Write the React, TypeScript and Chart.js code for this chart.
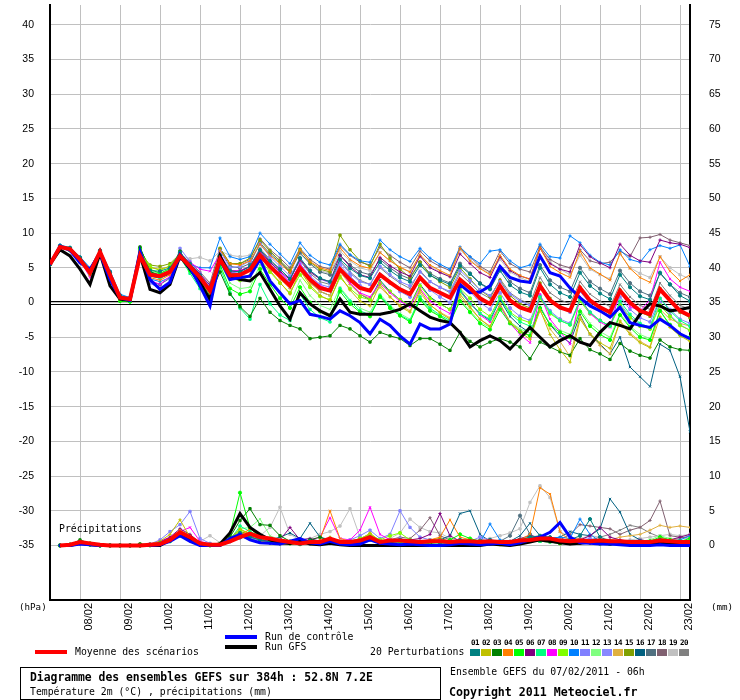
import React, { useEffect, useRef } from "react";
import { Chart, registerables } from "chart.js";

Chart.register(...registerables);

// ---------- axis / category data ----------
const STEP_H = 6; // hours between model outputs
const dayLabels = ["08/02", "09/02", "10/02", "11/02", "12/02", "13/02", "14/02", "15/02", "16/02", "17/02", "18/02", "19/02", "20/02", "21/02", "22/02", "23/02"];
const dayTickHours = [18, 42, 66, 90, 114, 138, 162, 186, 210, 234, 258, 282, 306, 330, 354, 378];
const tempTicks = [-35, -30, -25, -20, -15, -10, -5, 0, 5, 10, 15, 20, 25, 30, 35, 40];
const precipTicks = [0, 5, 10, 15, 20, 25, 30, 35, 40, 45, 50, 55, 60, 65, 70, 75];

// ---------- temperature 2m (°C), every 6h from 07/02 06h ----------
const tMean = [5.5, 8.0, 7.7, 6.2, 4.3, 7.3, 4.0, 0.7, 0.5, 6.7, 4.0, 3.8, 4.4, 6.7, 5.2, 3.6, 1.7,
  6.2, 3.9, 4.0, 4.7, 6.8, 5.2, 3.8, 2.4, 5.0, 3.3, 2.1, 1.7, 4.8, 3.3, 2.1, 1.7, 4.0, 2.9, 1.9, 1.2,
  3.6, 2.1, 1.4, 0.7, 3.3, 2.1, 0.6, -0.2, 2.4, 0.3, -0.7, -1.2, 2.4, 0.3, -0.7, -1.2, 2.1, 0.3, -0.7, -1.4,
  1.7, 0.0, -1.2, -1.7, 1.9, 0.3, -1.2, -1.9];
const tControl = [5.5, 8.1, 7.5, 5.7, 4.8, 7.1, 3.3, 0.7, 0.3, 7.4, 3.3, 1.9, 2.9, 6.9, 5.0, 2.4, -0.5,
  6.2, 3.3, 3.6, 3.8, 6.2, 3.1, 1.4, -0.2, 0.3, -1.7, -2.0, -2.4, -1.2, -1.9, -2.9, -4.5, -2.4, -3.3, -4.8, -6.0,
  -3.1, -3.8, -3.8, -3.1, 2.6, 1.4, 1.5, 2.4, 5.2, 3.6, 3.1, 2.9, 6.7, 4.3, 3.8, 2.1, 0.7, -0.5, -1.2, -2.1,
  -0.7, -2.9, -3.3, -3.6, -2.4, -3.3, -4.5, -5.2];
const tGfs = [5.5, 7.6, 6.7, 4.8, 2.6, 7.1, 2.4, 0.5, 0.3, 6.9, 1.9, 1.4, 2.6, 6.7, 4.8, 2.9, 0.4,
  6.7, 3.8, 3.3, 3.1, 4.3, 1.9, -0.5, -2.4, 1.4, -0.2, -1.2, -1.9, 0.5, -1.4, -1.7, -1.7, -1.7, -1.4, -1.0, -0.2,
  -1.2, -2.1, -2.6, -2.9, -4.3, -6.4, -5.5, -4.8, -5.5, -6.7, -5.2, -3.6, -5.0, -6.4, -5.5, -4.8, -5.7, -6.2, -4.3, -2.9,
  -3.3, -3.8, -1.7, -0.2, -0.5, -1.2, -1.0, -0.7];

const t01 = [5.5, 8.2, 7.9, 6.5, 4.8, 7.5, 4.4, 1.0, 0.6, 7.0, 4.6, 4.5, 5.0, 7.2, 5.6, 3.9, 2.0,
  6.8, 4.6, 4.4, 5.2, 7.6, 6.0, 4.8, 3.4, 6.4, 4.6, 3.5, 3.0, 6.2, 4.9, 3.9, 3.5, 5.8, 4.6, 3.6, 3.0, 5.4, 3.9, 3.2, 2.6,
  5.3, 4.1, 2.7, 1.9, 4.6, 2.5, 1.5, 1.0, 5.0, 2.6, 1.4, 0.8, 4.3, 2.4, 1.3, 0.5, 4.0, 2.2, 0.9, 0.4, 4.3, 2.6, 1.0, 0.2];
const t02 = [5.5, 7.9, 7.6, 6.0, 4.0, 7.0, 3.6, 0.4, 0.3, 7.4, 5.0, 4.8, 5.2, 7.0, 4.8, 3.0, 1.2,
  6.0, 3.5, 3.4, 4.0, 6.9, 4.6, 2.9, 1.2, 4.6, 2.5, 1.0, 0.3, 3.9, 1.8, 0.2, -0.5, 2.6, 0.8, -0.6, -1.4, 1.8, -0.3, -1.5, -2.4,
  1.2, -0.6, -2.4, -3.5, -0.2, -2.8, -4.2, -5.3, -1.0, -4.6, -6.8, -8.6, -2.4, -4.5, -5.8, -6.6, -2.8, -4.6, -5.8, -6.5, -2.0, -3.6, -4.8, -5.6];
const t03 = [5.5, 8.1, 7.8, 6.3, 4.5, 7.4, 4.2, 0.9, 0.6, 8.0, 4.5, 3.8, 4.6, 7.4, 5.0, 3.2, 1.0,
  4.4, 1.2, -0.6, -2.0, 0.6, -1.4, -2.6, -3.3, -3.8, -5.2, -5.0, -4.8, -3.3, -3.8, -4.8, -5.7, -4.3, -4.8, -5.2, -6.2, -5.2, -5.2, -6.0, -6.9,
  -4.3, -5.6, -6.4, -5.7, -5.2, -5.7, -6.4, -8.1, -5.7, -6.4, -7.1, -7.6, -5.2, -6.8, -7.4, -8.2, -5.9, -7.0, -7.6, -8.0, -5.4, -6.4, -6.8, -6.9];
const t04 = [5.5, 8.0, 7.8, 6.0, 3.9, 7.2, 3.8, 0.5, 0.4, 6.5, 3.6, 3.2, 4.0, 6.6, 5.4, 3.8, 1.4,
  7.5, 5.6, 5.4, 6.0, 8.4, 6.8, 5.6, 4.3, 7.6, 5.9, 5.0, 4.6, 7.9, 6.2, 5.3, 4.9, 7.2, 6.0, 5.1, 4.4, 6.9, 5.4, 4.6, 3.9,
  7.9, 6.0, 4.9, 4.0, 6.8, 4.8, 3.9, 3.3, 7.9, 5.2, 4.3, 3.6, 7.4, 5.0, 4.1, 3.2, 7.1, 4.9, 3.6, 2.9, 6.6, 4.5, 3.1, 4.0];
const t05 = [5.5, 8.0, 7.5, 6.1, 4.2, 7.3, 3.6, 0.2, 0.1, 7.8, 4.8, 4.2, 4.9, 6.8, 4.6, 2.4, 0.6,
  5.4, 2.0, 1.2, 1.6, 4.8, 2.6, 0.6, -0.8, 2.2, 0.0, -1.3, -1.9, 1.6, -0.2, -1.4, -2.0, 0.8, -0.8, -1.9, -2.8, 0.4, -1.2, -2.0, -2.9,
  0.2, -1.4, -3.0, -3.9, -1.0, -3.0, -4.2, -4.8, -0.8, -3.2, -4.3, -5.0, -1.3, -3.4, -4.6, -5.4, -1.8, -3.6, -5.0, -5.4, -1.2, -3.2, -4.6, -5.0];
const t06 = [5.5, 8.1, 7.7, 6.4, 4.6, 7.5, 4.1, 0.8, 0.6, 6.9, 4.2, 4.0, 4.5, 6.2, 5.6, 4.1, 2.5,
  6.6, 4.4, 4.5, 5.2, 7.4, 5.8, 4.5, 3.3, 6.2, 4.4, 3.4, 3.0, 6.8, 5.2, 4.0, 3.6, 6.5, 5.3, 4.4, 3.8, 6.7, 5.0, 4.3, 3.7,
  7.0, 5.6, 4.3, 3.6, 6.6, 4.6, 3.8, 3.4, 7.8, 5.6, 4.8, 4.4, 8.3, 6.6, 5.7, 5.0, 8.4, 6.8, 6.0, 5.8, 9.0, 8.6, 8.4, 7.9];
const t07 = [5.5, 7.9, 7.6, 6.2, 4.4, 7.1, 3.9, 0.6, 0.2, 7.1, 4.4, 3.5, 4.4, 6.5, 4.2, 2.0, 0.3,
  5.0, 1.4, -0.8, -2.4, 2.6, -0.2, -1.8, -2.6, 1.2, -1.0, -2.2, -2.8, 2.0, 0.2, -1.2, -1.8, 1.0, -0.6, -1.8, -2.6, 0.8, -0.8, -1.8, -2.6,
  1.6, -0.2, -1.6, -2.4, 0.6, -1.6, -2.8, -3.4, 0.8, -1.4, -2.6, -3.2, 0.5, -1.4, -2.6, -3.4, 0.2, -1.7, -3.0, -3.6, 0.6, -1.2, -2.6, -3.4];
const t08 = [5.5, 8.0, 7.8, 6.1, 3.6, 7.2, 4.0, 0.7, 0.5, 6.4, 3.2, 2.6, 3.8, 6.9, 5.8, 4.8, 4.5,
  7.0, 4.6, 4.6, 5.2, 7.6, 5.9, 4.4, 3.0, 5.5, 3.6, 2.4, 1.9, 4.6, 2.8, 1.4, 0.8, 2.8, 1.4, 0.2, -0.6, 2.0, 0.2, -0.8, -1.6,
  1.6, 0.0, -1.8, -2.8, -0.4, -3.0, -4.6, -5.8, 1.2, -2.4, -4.2, -6.0, 0.8, -1.6, -2.8, -3.6, 1.6, -0.6, -1.2, 0.4, 5.8, 3.4, 2.2, 1.6];
const t09 = [5.5, 8.0, 7.7, 6.3, 4.4, 7.3, 3.9, 0.6, 0.4, 7.6, 5.2, 4.6, 5.3, 7.1, 5.0, 3.4, 1.5,
  6.0, 3.4, 3.2, 3.8, 6.2, 4.4, 2.8, 1.4, 4.0, 2.2, 0.9, 0.4, 3.6, 2.0, 0.8, 0.4, 2.8, 1.6, 0.4, -0.4, 2.4, 0.6, -0.2, -1.0,
  2.0, 0.6, -1.0, -2.0, 0.8, -1.4, -2.4, -2.9, 0.6, -1.6, -2.6, -3.2, 0.2, -1.6, -2.6, -3.4, -0.4, -2.2, -3.4, -3.8, -0.4, -2.0, -3.3, -4.0];
const t10 = [5.5, 8.3, 7.9, 6.6, 5.0, 7.6, 4.6, 1.2, 0.7, 6.6, 3.4, 3.0, 3.6, 6.4, 5.5, 5.0, 5.0,
  9.3, 6.6, 6.2, 6.6, 10.0, 8.4, 7.0, 5.6, 8.6, 6.8, 5.8, 5.4, 8.4, 6.9, 6.0, 5.8, 9.0, 7.6, 6.6, 5.9, 7.8, 6.4, 5.5, 4.8,
  8.0, 6.6, 5.6, 7.4, 7.6, 6.0, 5.0, 5.4, 8.4, 6.6, 6.4, 9.6, 8.6, 6.8, 5.8, 5.4, 7.6, 6.2, 5.8, 7.6, 8.2, 7.8, 8.3, 5.2];
const t11 = [5.5, 8.0, 7.6, 6.0, 4.0, 7.2, 3.8, 0.6, 0.5, 6.2, 2.8, 2.0, 3.2, 7.8, 5.9, 4.2, 2.2,
  7.0, 4.4, 4.2, 4.8, 7.4, 5.6, 4.2, 2.8, 5.6, 3.8, 2.6, 2.2, 5.8, 4.2, 3.0, 2.6, 5.2, 4.0, 3.0, 2.4, 4.4, 3.0, 2.2, 1.6,
  4.6, 3.2, 1.8, 1.0, 3.0, 1.2, 0.2, -0.4, 2.4, 0.2, -0.8, -1.4, 1.6, -0.2, -1.2, -2.0, 0.8, -1.0, -2.2, -2.8, 0.6, -1.0, -2.4, -3.0];
const t12 = [5.5, 7.9, 7.6, 6.2, 4.3, 7.1, 3.7, 0.4, 0.2, 7.3, 4.6, 4.1, 4.7, 6.6, 4.5, 2.6, 0.8,
  5.8, 2.8, 2.0, 2.2, 5.4, 3.2, 1.4, -0.2, 3.2, 1.0, -0.4, -1.0, 2.2, 0.4, -0.8, -1.4, 1.2, -0.4, -1.6, -2.4, 0.6, -1.0, -2.0, -2.8,
  0.4, -1.2, -2.8, -3.6, -0.6, -2.8, -3.8, -4.4, -0.8, -3.0, -4.0, -4.6, -1.0, -3.0, -4.2, -5.0, -1.6, -3.4, -4.6, -5.2, -1.2, -3.4, -4.8, -5.4];
const t13 = [5.5, 8.1, 7.8, 6.4, 4.5, 7.4, 4.3, 0.9, 0.7, 6.8, 4.0, 3.9, 4.5, 6.9, 5.3, 3.7, 1.8,
  7.4, 5.0, 5.2, 6.0, 8.4, 6.6, 5.2, 3.8, 6.4, 4.6, 3.4, 2.8, 5.4, 3.8, 2.4, 1.8, 4.0, 2.8, 1.6, 0.8, 3.4, 1.8, 0.8, 0.0,
  3.0, 1.6, 0.0, -1.0, 1.4, -0.8, -2.0, -2.6, 1.0, -1.2, -2.4, -3.0, 0.4, -1.4, -2.6, -3.4, -0.2, -2.0, -3.2, -3.8, 0.0, -1.8, -3.2, -4.0];
const t14 = [5.5, 8.0, 7.7, 6.1, 4.1, 7.3, 4.1, 0.7, 0.4, 6.7, 4.1, 3.7, 4.2, 6.4, 5.1, 3.5, 1.9,
  6.4, 4.0, 4.0, 4.6, 7.0, 5.0, 3.4, 2.0, 4.8, 2.8, 1.6, 1.0, 4.4, 2.6, 1.2, 0.6, 2.2, 0.8, -0.4, -1.2, 1.4, -0.4, -1.4, -2.2,
  0.8, -0.8, -2.4, -3.4, -0.6, -2.8, -4.0, -4.8, -1.2, -3.8, -5.6, -7.8, -2.0, -4.6, -6.2, -7.4, -2.6, -4.4, -5.6, -6.4, -1.0, -2.4, -3.0, -3.4];
const t15 = [5.5, 8.1, 7.8, 6.3, 4.4, 7.4, 4.0, 0.6, 0.5, 7.2, 5.4, 5.2, 5.6, 7.0, 5.3, 3.3, 1.6,
  7.8, 5.6, 5.6, 6.4, 9.0, 7.4, 6.0, 4.6, 7.6, 5.8, 4.8, 4.4, 9.7, 7.6, 6.0, 5.2, 8.4, 6.4, 4.8, 3.6, 5.8, 4.0, 3.0, 2.2,
  5.0, 3.4, 1.8, 0.8, 3.2, 1.0, -0.2, -0.8, 2.8, 0.6, -0.6, -1.2, 2.2, 0.2, -0.8, -1.6, 1.8, -0.2, -1.4, -2.0, 2.0, 0.2, -1.4, -2.2];
const t16 = [5.5, 8.0, 7.7, 6.2, 4.2, 7.2, 3.9, 0.6, 0.4, 6.6, 3.8, 3.5, 4.1, 6.5, 5.0, 3.6, 1.7,
  6.6, 4.2, 4.2, 5.0, 7.2, 5.4, 3.8, 2.2, 5.0, 3.0, 1.6, 1.0, 4.6, 2.8, 1.2, 0.4, 3.2, 1.6, 0.4, -0.4, 2.6, 0.8, -0.2, -1.0,
  1.8, 0.0, -1.6, -2.6, 0.4, -2.0, -3.4, -4.4, -0.6, -3.2, -4.8, -5.8, -1.8, -4.6, -6.0, -7.4, -5.0, -9.3, -10.7, -12.1, -6.0, -6.9, -10.7, -18.6];
const t17 = [5.5, 8.1, 7.8, 6.3, 4.6, 7.4, 4.3, 0.9, 0.6, 6.3, 3.0, 2.6, 3.5, 6.7, 5.5, 4.0, 2.0,
  7.6, 5.2, 5.0, 5.6, 8.6, 7.0, 5.8, 4.4, 7.2, 5.6, 4.4, 4.0, 6.8, 5.4, 4.4, 4.0, 6.2, 5.0, 4.0, 3.4, 5.8, 4.2, 3.4, 2.8,
  5.6, 4.2, 2.8, 2.0, 5.0, 3.0, 2.0, 1.4, 5.4, 3.2, 2.2, 1.6, 5.0, 3.0, 2.0, 1.2, 4.6, 2.8, 1.6, 1.0, 4.2, 2.6, 1.4, 0.8];
const t18 = [5.5, 8.0, 7.7, 6.2, 4.5, 7.3, 4.2, 0.8, 0.5, 6.6, 4.3, 4.1, 4.8, 7.0, 5.8, 4.4, 2.8,
  7.8, 5.6, 5.6, 6.2, 9.2, 7.6, 6.4, 5.0, 7.8, 6.2, 5.2, 4.8, 8.2, 6.8, 5.8, 5.4, 8.0, 6.8, 5.8, 5.0, 7.4, 6.0, 5.2, 4.6,
  7.8, 6.6, 5.2, 4.4, 7.4, 5.6, 4.8, 4.4, 8.0, 6.2, 5.4, 5.0, 7.6, 6.0, 5.6, 5.8, 7.4, 6.6, 9.3, 9.4, 9.8, 9.0, 8.6, 8.2];
const t19 = [5.5, 8.0, 7.8, 6.5, 4.9, 7.5, 4.5, 1.0, 0.7, 6.8, 4.4, 4.2, 4.5, 6.8, 6.3, 6.5, 6.0,
  7.4, 6.8, 6.6, 6.8, 8.6, 7.2, 6.0, 4.8, 7.0, 5.6, 4.6, 4.2, 7.4, 6.0, 5.0, 4.6, 7.2, 6.0, 5.0, 4.4, 6.6, 5.2, 4.4, 3.8,
  7.6, 6.2, 5.0, 4.2, 6.2, 4.4, 3.6, 3.0, 8.2, 5.8, 4.8, 4.0, 6.8, 4.8, 4.0, 3.4, 7.0, 5.0, 4.2, 3.6, 6.6, 5.0, 4.0, 3.4];
const t20 = [5.5, 8.0, 7.6, 6.1, 4.0, 7.2, 3.8, 0.5, 0.3, 6.9, 4.2, 3.9, 4.4, 6.6, 5.2, 3.6, 1.6,
  6.8, 4.6, 4.6, 5.2, 7.8, 6.2, 4.8, 3.4, 6.0, 4.2, 3.0, 2.6, 6.0, 4.4, 3.2, 2.6, 5.0, 3.8, 2.8, 2.0, 4.6, 3.0, 2.2, 1.4,
  4.2, 2.8, 1.4, 0.6, 3.4, 1.4, 0.4, -0.2, 3.6, 1.4, 0.4, -0.2, 3.0, 1.2, 0.2, -0.6, 2.6, 0.8, -0.4, -1.0, 2.8, 1.0, -0.4, -1.0];

// ---------- precipitation (mm / 6h), from 07/02 12h ----------
const pMean = [0, 0.1, 0.5, 0.3, 0.1, 0, 0, 0, 0, 0.1, 0.2, 0.8, 1.9, 1.2, 0.3, 0.1,
  0.1, 0.6, 1.2, 1.7, 1.2, 1.0, 0.7, 0.5, 0.3, 0.5, 0.5, 1.0, 0.5, 0.5, 0.7, 1.2,
  0.5, 0.7, 0.7, 0.6, 0.5, 0.6, 0.6, 0.5, 0.6, 0.6, 0.5, 0.6, 0.5, 0.5, 0.7, 0.8,
  1.0, 1.0, 0.7, 0.6, 0.7, 0.6, 0.7, 0.6, 0.6, 0.5, 0.5, 0.5, 0.7, 0.6, 0.5, 0.5];
const pControl = [0, 0, 0.2, 0.1, 0, 0, 0, 0, 0, 0, 0.1, 0.6, 1.4, 0.6, 0, 0,
  0, 1.0, 1.6, 0.8, 0.4, 0.3, 0.2, 0.6, 1.0, 0.4, 0.2, 0.6, 0.2, 0.1, 0.2, 0.8,
  0.3, 0.2, 0.1, 0.2, 0.1, 0, 0, 0.1, 0.3, 0.2, 0.1, 0.2, 0.3, 0.1, 0.4, 0.8,
  1.2, 1.9, 3.3, 1.2, 0.4, 0.3, 0.2, 0.2, 0.1, 0, 0, 0, 0.1, 0, 0, 0];
const pGfs = [0, 0, 0.3, 0.1, 0, 0, 0, 0, 0, 0, 0, 0.8, 1.6, 0.8, 0.1, 0,
  0.2, 1.8, 4.6, 2.6, 1.6, 0.8, 0.4, 0.3, 0.6, 0.2, 0.1, 0.3, 0.1, 0, 0, 0,
  0, 0, 0, 0, 0, 0, 0, 0, 0, 0, 0, 0.2, 0.1, 0, 0.2, 0.5,
  0.8, 0.6, 0.4, 0.2, 0.3, 0.5, 0.3, 0.2, 0.4, 0.3, 0.2, 0.3, 0.4, 0.2, 0.1, 0];

const p01 = [0, 0.1, 0.5, 0.2, 0, 0, 0, 0, 0, 0.1, 0.3, 0.9, 1.8, 1.0, 0.3, 0.1, 0.1, 0.8, 1.8, 1.2, 0.8, 0.5, 0.3, 0.4, 0.2, 0.6, 0.4, 0.8, 0.3, 0.5, 0.6, 1.2, 0.4, 0.6, 0.8, 0.4, 0.3, 0.6, 0.4, 0.5, 0.8, 0.6, 0.4, 0.8, 0.5, 0.3, 0.8, 1.2, 1.4, 1.2, 0.6, 0.8, 1.4, 3.8, 1.2, 0.6, 0.5, 0.4, 0.6, 0.4, 0.8, 0.6, 0.4, 0.5];
const p02 = [0, 0.2, 0.6, 0.3, 0, 0, 0, 0, 0, 0.2, 0.6, 1.6, 3.7, 1.2, 0.4, 0.1, 0.2, 1.0, 2.4, 1.6, 0.6, 0.4, 0.2, 0.2, 0.1, 0.3, 0.5, 1.2, 0.4, 0.3, 0.8, 1.8, 0.6, 0.8, 0.6, 0.4, 0.2, 0.4, 0.6, 0.3, 0.2, 0.4, 0.3, 0.2, 0.1, 0.2, 0.6, 0.9, 1.2, 1.0, 0.4, 0.3, 0.5, 0.4, 0.3, 0.2, 0.3, 0.2, 0.4, 0.3, 0.6, 0.4, 0.2, 0.2];
const p03 = [0, 0.1, 0.8, 0.3, 0, 0, 0, 0, 0.2, 0.1, 0.4, 0.8, 1.6, 0.8, 0.2, 0, 0.2, 1.2, 3.6, 5.3, 3.0, 2.9, 1.4, 0.6, 0.4, 0.8, 1.2, 0.6, 0.3, 0.4, 0.5, 0.8, 0.3, 0.4, 0.8, 0.6, 0.2, 0.3, 0.5, 0.4, 0.6, 0.4, 0.3, 0.5, 0.4, 0.2, 0.4, 0.6, 0.8, 0.6, 0.3, 0.4, 0.5, 0.6, 0.4, 0.3, 0.2, 0.3, 0.4, 0.2, 0.3, 0.4, 0.2, 0.1];
const p04 = [0, 0.1, 0.4, 0.2, 0, 0, 0, 0, 0, 0.1, 0.3, 1.0, 2.2, 1.4, 0.4, 0.2, 0.1, 0.6, 1.4, 2.4, 1.6, 1.0, 0.6, 0.4, 0.3, 0.4, 0.8, 5.0, 1.0, 0.6, 0.8, 1.4, 0.6, 0.8, 0.9, 0.6, 0.4, 0.8, 1.2, 3.7, 1.2, 0.8, 0.4, 0.6, 0.4, 0.3, 0.8, 1.6, 8.3, 7.4, 2.0, 0.6, 0.8, 0.5, 0.4, 0.3, 0.4, 0.5, 0.6, 0.4, 1.0, 0.8, 0.6, 0.6];
const p05 = [0, 0.1, 0.3, 0.1, 0, 0, 0, 0, 0, 0, 0.2, 0.6, 1.4, 0.8, 0.2, 0, 0.2, 1.6, 7.6, 2.5, 1.2, 0.8, 0.4, 0.3, 0.2, 0.5, 0.4, 0.9, 0.4, 0.3, 0.6, 1.0, 0.4, 0.5, 0.6, 0.4, 0.2, 0.4, 0.5, 0.8, 1.6, 1.0, 0.6, 0.4, 0.2, 0.4, 0.8, 1.2, 1.0, 0.8, 0.6, 0.4, 0.6, 0.5, 0.3, 0.2, 0.4, 0.3, 0.5, 0.6, 1.2, 0.8, 0.6, 1.0];
const p06 = [0, 0.1, 0.5, 0.2, 0, 0, 0, 0, 0, 0.2, 0.5, 1.2, 2.4, 1.6, 0.4, 0.1, 0.1, 0.8, 1.6, 1.4, 0.8, 0.6, 0.8, 2.6, 0.8, 1.0, 0.6, 0.8, 0.4, 0.6, 0.8, 1.2, 0.6, 0.4, 0.6, 0.8, 1.0, 1.6, 4.6, 1.4, 0.6, 0.4, 0.8, 0.6, 0.4, 0.6, 1.0, 1.4, 1.2, 0.8, 0.4, 0.6, 0.8, 1.4, 2.6, 1.2, 0.8, 0.6, 0.8, 0.6, 1.0, 0.8, 1.2, 1.6];
const p07 = [0, 0.1, 0.4, 0.2, 0, 0, 0, 0, 0, 0.1, 0.3, 0.8, 1.6, 1.0, 0.3, 0.1, 0.1, 0.8, 2.8, 2.0, 1.4, 1.0, 0.6, 0.4, 0.3, 0.6, 0.4, 0.6, 0.3, 0.4, 0.8, 1.2, 0.4, 0.6, 0.4, 0.3, 0.2, 0.4, 0.3, 0.4, 0.6, 0.4, 0.3, 0.4, 0.3, 0.2, 0.5, 0.8, 0.6, 0.5, 0.3, 0.4, 0.5, 0.4, 0.3, 0.2, 0.2, 0.3, 0.4, 0.3, 0.5, 0.4, 0.2, 0.3];
const p08 = [0, 0.1, 0.4, 0.2, 0, 0, 0, 0, 0, 0.2, 0.6, 1.2, 2.0, 2.6, 0.6, 0.2, 0.1, 0.8, 1.6, 1.4, 0.8, 0.5, 0.4, 0.6, 0.4, 0.8, 1.2, 4.0, 1.0, 0.8, 2.2, 5.5, 1.6, 0.8, 0.6, 0.4, 0.3, 0.6, 0.8, 0.5, 0.4, 0.3, 0.4, 0.3, 0.2, 0.4, 0.6, 0.8, 0.8, 0.6, 0.4, 0.5, 0.6, 0.8, 0.4, 0.3, 0.4, 0.3, 0.5, 0.4, 0.6, 0.5, 0.3, 0.4];
const p09 = [0, 0.1, 0.5, 0.3, 0, 0, 0, 0, 0, 0.1, 0.4, 0.9, 2.0, 1.2, 0.4, 0.1, 0.2, 1.0, 2.2, 1.8, 1.2, 0.8, 0.5, 0.4, 0.3, 0.5, 0.6, 1.0, 0.4, 0.6, 1.0, 1.6, 0.8, 1.4, 1.8, 0.8, 0.4, 0.6, 0.5, 0.4, 0.3, 0.4, 0.6, 0.4, 0.3, 0.3, 0.6, 1.0, 0.8, 0.6, 0.3, 0.4, 0.5, 0.4, 0.3, 0.3, 0.4, 0.3, 0.5, 0.4, 0.6, 0.5, 0.4, 0.3];
const p10 = [0, 0.1, 0.3, 0.2, 0, 0, 0, 0, 0, 0.1, 0.3, 1.0, 1.6, 0.8, 0.2, 0.1, 0.2, 0.6, 1.0, 1.6, 1.2, 0.8, 0.6, 0.4, 0.2, 0.4, 0.6, 0.8, 0.4, 0.6, 0.8, 1.4, 0.6, 0.4, 0.6, 0.4, 0.3, 0.5, 0.6, 0.4, 0.8, 0.6, 0.4, 3.1, 0.8, 0.4, 0.6, 1.0, 1.2, 1.0, 1.2, 1.0, 3.8, 1.6, 0.6, 0.4, 0.5, 0.4, 0.6, 0.5, 0.8, 0.6, 0.8, 1.4];
const p11 = [0, 0.1, 0.4, 0.2, 0, 0, 0, 0, 0, 0.2, 0.8, 2.0, 3.0, 4.9, 1.0, 0.3, 0.1, 0.6, 1.2, 1.0, 0.6, 0.4, 0.3, 0.5, 0.4, 0.6, 0.5, 0.8, 0.6, 0.8, 1.4, 2.2, 1.0, 1.6, 5.0, 2.6, 1.2, 0.8, 0.6, 0.4, 0.5, 0.4, 0.3, 0.5, 0.4, 0.3, 0.6, 0.8, 1.0, 0.8, 0.5, 0.6, 0.4, 0.5, 0.3, 0.2, 0.3, 0.4, 0.5, 0.4, 0.6, 0.4, 0.3, 0.4];
const p12 = [0, 0.1, 0.6, 0.3, 0, 0, 0, 0, 0, 0.1, 0.3, 0.8, 1.6, 0.9, 0.2, 0.1, 0.2, 1.0, 2.4, 2.6, 3.8, 1.4, 0.8, 0.5, 0.3, 0.4, 0.6, 0.8, 0.4, 0.3, 0.6, 1.0, 0.5, 0.6, 0.4, 0.3, 0.2, 0.4, 0.6, 0.5, 0.8, 1.0, 0.6, 0.4, 0.3, 0.4, 0.6, 0.8, 0.6, 0.5, 0.4, 0.3, 0.4, 0.5, 0.3, 0.2, 0.3, 0.4, 0.6, 0.8, 1.4, 1.0, 0.6, 0.5];
const p13 = [0, 0.1, 0.3, 0.2, 0, 0, 0, 0, 0, 0.1, 0.3, 0.8, 1.8, 1.2, 0.4, 0.1, 0.1, 0.6, 1.4, 1.2, 0.8, 0.6, 0.4, 0.3, 0.2, 0.4, 0.6, 1.0, 0.5, 0.4, 0.8, 1.4, 0.6, 0.8, 1.0, 0.6, 0.4, 0.6, 0.5, 0.4, 0.3, 0.6, 1.2, 0.8, 0.4, 0.3, 0.5, 0.8, 1.0, 0.8, 0.6, 0.5, 0.8, 1.0, 0.6, 0.4, 0.3, 0.4, 0.5, 0.4, 0.8, 0.6, 0.4, 0.5];
const p14 = [0, 0.1, 0.4, 0.2, 0, 0, 0, 0, 0, 0.1, 0.4, 1.0, 1.8, 1.0, 0.3, 0.1, 0.1, 0.8, 1.6, 1.8, 1.2, 0.6, 0.4, 0.3, 0.2, 0.4, 0.5, 0.6, 0.3, 0.4, 0.6, 1.0, 0.4, 0.6, 0.8, 0.5, 0.3, 0.4, 0.5, 0.4, 0.3, 0.4, 0.6, 0.5, 0.4, 0.3, 0.6, 1.0, 1.2, 0.8, 0.6, 0.8, 1.0, 0.8, 0.6, 0.8, 1.2, 1.4, 1.6, 2.2, 2.9, 2.6, 2.8, 2.6];
const p15 = [0, 0.1, 0.5, 0.2, 0, 0, 0, 0, 0.2, 0.1, 0.3, 0.9, 2.2, 1.4, 0.4, 0.1, 0.2, 1.0, 2.0, 1.6, 1.0, 0.6, 0.4, 0.3, 0.3, 0.5, 0.4, 0.8, 0.4, 0.5, 1.0, 1.6, 0.5, 0.6, 0.8, 0.4, 0.3, 0.8, 1.0, 0.6, 0.4, 0.3, 0.4, 0.6, 0.3, 0.2, 0.4, 0.6, 0.6, 0.5, 0.3, 0.4, 0.3, 0.4, 0.2, 0.2, 0.3, 0.2, 0.3, 0.2, 0.4, 0.3, 0.2, 0.2];
const p16 = [0, 0.1, 0.4, 0.2, 0, 0, 0, 0, 0, 0.1, 0.3, 0.8, 1.6, 0.8, 0.2, 0.1, 0.1, 0.8, 1.6, 1.4, 1.0, 0.8, 1.2, 1.8, 1.0, 3.2, 1.2, 0.8, 0.6, 0.5, 0.8, 1.2, 0.6, 0.8, 0.6, 0.4, 0.3, 0.6, 0.8, 1.4, 4.6, 5.0, 1.6, 0.6, 0.4, 0.6, 1.4, 3.2, 1.4, 1.0, 1.2, 2.0, 1.6, 1.4, 2.4, 6.7, 4.8, 1.6, 0.8, 0.6, 0.6, 0.8, 0.4, 0.6];
const p17 = [0, 0.1, 0.4, 0.2, 0, 0, 0, 0, 0, 0.1, 0.3, 0.8, 1.6, 1.0, 0.3, 0.1, 0.1, 0.6, 1.2, 1.0, 0.6, 0.4, 0.3, 0.4, 0.3, 0.5, 0.4, 0.6, 0.3, 0.4, 0.6, 1.0, 0.4, 0.5, 0.6, 0.4, 0.3, 0.5, 0.4, 0.3, 0.4, 0.3, 0.6, 0.8, 0.6, 1.4, 4.3, 1.6, 0.8, 0.6, 0.5, 0.6, 0.8, 0.6, 0.4, 0.3, 0.4, 0.5, 0.6, 0.4, 0.5, 0.4, 0.3, 0.4];
const p18 = [0, 0.1, 0.5, 0.2, 0, 0, 0, 0, 0, 0.1, 0.3, 0.8, 1.6, 0.9, 0.3, 0.1, 0.1, 0.7, 1.4, 1.2, 0.8, 0.6, 0.4, 0.3, 0.2, 0.4, 0.6, 0.8, 0.4, 0.5, 0.8, 1.2, 0.6, 0.8, 1.2, 1.0, 2.2, 4.0, 1.4, 0.8, 0.6, 0.4, 0.6, 0.5, 0.4, 0.6, 0.8, 1.0, 0.8, 0.6, 0.8, 1.6, 3.0, 2.8, 2.6, 2.4, 1.6, 2.2, 2.6, 3.6, 6.4, 1.4, 1.2, 1.0];
const p19 = [0, 0.1, 0.3, 0.2, 0, 0, 0, 0, 0, 0.1, 0.3, 0.8, 1.4, 1.0, 0.6, 1.4, 0.4, 0.8, 1.2, 1.6, 1.4, 2.6, 5.5, 1.6, 0.8, 1.0, 1.6, 2.0, 2.8, 5.3, 1.2, 0.8, 0.6, 1.0, 1.8, 3.8, 2.6, 2.0, 1.8, 1.0, 0.8, 0.6, 0.8, 1.0, 1.4, 1.8, 2.4, 6.2, 8.6, 6.9, 2.0, 1.2, 1.0, 1.4, 1.2, 0.8, 0.6, 0.8, 1.0, 1.2, 1.4, 1.6, 1.4, 1.6];
const p20 = [0, 0.1, 0.4, 0.2, 0, 0, 0, 0, 0, 0.1, 0.3, 0.9, 1.8, 1.0, 0.3, 0.1, 0.1, 0.8, 1.4, 1.2, 0.8, 0.6, 0.4, 0.3, 0.2, 0.4, 0.5, 0.8, 0.4, 0.5, 0.8, 1.2, 0.4, 0.6, 0.8, 0.5, 0.3, 0.5, 0.4, 0.3, 0.4, 0.3, 0.5, 0.4, 0.3, 0.4, 0.6, 0.8, 0.6, 0.5, 0.4, 0.5, 0.6, 0.8, 1.2, 1.6, 2.2, 2.9, 2.6, 1.8, 1.2, 0.8, 1.0, 1.4];

const pertTemps = [t01, t02, t03, t04, t05, t06, t07, t08, t09, t10, t11, t12, t13, t14, t15, t16, t17, t18, t19, t20];
const pertPrecips = [p01, p02, p03, p04, p05, p06, p07, p08, p09, p10, p11, p12, p13, p14, p15, p16, p17, p18, p19, p20];
const pertColors = ["#008080", "#c0c000", "#008000", "#ff8000", "#00ff00", "#800080", "#00ff80", "#ff00ff", "#80ff00", "#0080ff",
  "#8080ff", "#80ff80", "#8888ff", "#e0b040", "#80a000", "#006080", "#507080", "#806070", "#c0c0c0", "#808080"];
const pertNumbers = ["01", "02", "03", "04", "05", "06", "07", "08", "09", "10", "11", "12", "13", "14", "15", "16", "17", "18", "19", "20"];
const markerStyles = ["circle", "cross", "rect", "crossRot"];

const toTemp = (arr: number[]) => arr.map((v, i) => ({ x: i * STEP_H, y: v }));
const toPrecip = (arr: number[]) => arr.map((v, j) => ({ x: (j + 1) * STEP_H, y: v }));

const MONO = '"DejaVu Sans Mono", monospace';
const SANS = '"Liberation Sans", Arial, sans-serif';

function thick(label: string, data: any[], color: string, width: number, axis: string, radius: number) {
  return {
    label, data, yAxisID: axis, borderColor: color, backgroundColor: color, borderWidth: width,
    pointRadius: radius, pointStyle: "rect", pointBackgroundColor: color, pointBorderColor: color,
    pointBorderWidth: 0, fill: false, tension: 0,
  };
}
function thin(label: string, data: any[], color: string, k: number, axis: string) {
  return {
    label, data, yAxisID: axis, borderColor: color, backgroundColor: color, borderWidth: 1,
    pointRadius: 1.6, pointStyle: markerStyles[k % markerStyles.length], pointBackgroundColor: color,
    pointBorderColor: color, pointBorderWidth: 1, fill: false, tension: 0,
  };
}

const zeroLinePlugin = {
  id: "zeroLine",
  beforeDatasetsDraw(chart: any) {
    const { ctx, chartArea, scales } = chart;
    const y0 = Math.round(scales.y.getPixelForValue(0));
    ctx.save();
    ctx.strokeStyle = "#000";
    ctx.lineWidth = 1.2;
    ctx.beginPath();
    ctx.moveTo(chartArea.left, y0 - 1.5);
    ctx.lineTo(chartArea.right, y0 - 1.5);
    ctx.moveTo(chartArea.left, y0 + 1.5);
    ctx.lineTo(chartArea.right, y0 + 1.5);
    ctx.stroke();
    ctx.restore();
  },
};

function Txt(props: { x: number; y: number; size?: number; bold?: boolean; children: any }) {
  const size = props.size ?? 9.8;
  const lh = Math.round(size * 1.4);
  return (
    <div style={{
      position: "absolute", left: props.x, top: props.y - lh / 2, fontFamily: MONO, fontSize: size,
      fontWeight: props.bold ? "bold" : "normal", lineHeight: `${lh}px`, whiteSpace: "pre", color: "#000",
    }}>{props.children}</div>
  );
}

export default function App() {
  const ref = useRef<HTMLCanvasElement | null>(null);

  useEffect(() => {
    if (!ref.current) return;
    const datasets: any[] = [];
    datasets.push(thick("Moyenne", toTemp(tMean), "#ff0000", 4, "y", 0));
    datasets.push(thick("Contrôle", toTemp(tControl), "#0000ff", 3, "y", 1.5));
    datasets.push(thick("GFS", toTemp(tGfs), "#000000", 3, "y", 1.5));
    pertTemps.forEach((arr, k) => datasets.push(thin("T" + pertNumbers[k], toTemp(arr), pertColors[k], k, "y")));
    datasets.push(thick("Moyenne P", toPrecip(pMean), "#ff0000", 4, "y2", 0));
    datasets.push(thick("Contrôle P", toPrecip(pControl), "#0000ff", 3, "y2", 1.5));
    datasets.push(thick("GFS P", toPrecip(pGfs), "#000000", 3, "y2", 1.5));
    pertPrecips.forEach((arr, k) => datasets.push(thin("P" + pertNumbers[k], toPrecip(arr), pertColors[k], k, "y2")));

    const tickFont = { family: SANS, size: 10.5 };
    const chart = new Chart(ref.current, {
      type: "line",
      data: { datasets },
      plugins: [zeroLinePlugin],
      options: {
        animation: false,
        responsive: false,
        maintainAspectRatio: false,
        events: [],
        layout: { padding: 0 },
        plugins: { legend: { display: false }, tooltip: { enabled: false }, title: { display: false } },
        scales: {
          x: {
            type: "linear", min: 0, max: 384,
            afterBuildTicks: (s: any) => { s.ticks = dayTickHours.map((v) => ({ value: v })); },
            afterFit: (s: any) => { s.height = 40; s.paddingLeft = 0; s.paddingRight = 0; },
            ticks: {
              autoSkip: false, maxRotation: 90, minRotation: 90, labelOffset: 9, padding: 3,
              font: { family: SANS, size: 11 }, color: "#000",
              callback: (_v: any, i: number) => dayLabels[i],
            },
            grid: { color: "#c0c0c0", lineWidth: 1, drawTicks: false },
            border: { display: true, color: "#000", width: 2 },
          },
          y: {
            type: "linear", position: "left", min: -300 / 7, max: 300 / 7,
            afterBuildTicks: (s: any) => { s.ticks = tempTicks.map((v) => ({ value: v })); },
            afterFit: (s: any) => { s.width = 50; s.paddingTop = 0; s.paddingBottom = 0; },
            ticks: { padding: 16, font: tickFont, color: "#000", callback: (v: any) => String(v) },
            grid: { color: "#c0c0c0", lineWidth: 1, drawTicks: false },
            border: { display: true, color: "#000", width: 2 },
          },
          y2: {
            type: "linear", position: "right", min: -300 / 7 + 35, max: 300 / 7 + 35,
            afterBuildTicks: (s: any) => { s.ticks = precipTicks.map((v) => ({ value: v })); },
            afterFit: (s: any) => { s.width = 50; s.paddingTop = 0; s.paddingBottom = 0; },
            ticks: { padding: 19, font: tickFont, color: "#000", callback: (v: any) => String(v) },
            grid: { display: false, drawTicks: false },
            border: { display: true, color: "#000", width: 2 },
          },
        },
      } as any,
    } as any);
    return () => chart.destroy();
  }, []);

  return (
    <div style={{ position: "absolute", left: 0, top: 0, width: 740, height: 700, background: "#fff", overflow: "hidden" }}>
      <canvas ref={ref} width={740} height={640} style={{ position: "absolute", left: 0, top: 0, width: 740, height: 640 }} />
      <Txt x={59} y={529}>Précipitations</Txt>
      <Txt x={19} y={606} size={9.2}>(hPa)</Txt>
      <Txt x={711} y={606} size={9.2}>(mm)</Txt>

      <div style={{ position: "absolute", left: 35, top: 650, width: 32, height: 4, background: "#ff0000" }} />
      <Txt x={75} y={652}>Moyenne des scénarios</Txt>
      <div style={{ position: "absolute", left: 225, top: 635, width: 32, height: 4, background: "#0000ff" }} />
      <Txt x={265} y={637}>Run de contrôle</Txt>
      <div style={{ position: "absolute", left: 225, top: 645, width: 32, height: 4, background: "#000000" }} />
      <Txt x={265} y={647}>Run GFS</Txt>
      <Txt x={370} y={652}>20 Perturbations</Txt>
      {pertColors.map((c, k) => (
        <div key={"sq" + k} style={{ position: "absolute", left: 470 + 11 * k, top: 649, width: 10, height: 7, background: c }} />
      ))}
      {pertNumbers.map((n, k) => (
        <div key={"n" + k} style={{
          position: "absolute", left: 469 + 11 * k, top: 638, width: 12, textAlign: "center", fontFamily: MONO,
          fontSize: 7.5, lineHeight: "9px", letterSpacing: -0.6, fontWeight: "bold", color: "#000",
        }}>{n}</div>
      ))}

      <div style={{ position: "absolute", left: 20, top: 667, width: 421, height: 33, border: "1px solid #000", boxSizing: "border-box" }} />
      <Txt x={30} y={677} size={11.4} bold>Diagramme des ensembles GEFS sur 384h : 52.8N 7.2E</Txt>
      <Txt x={30} y={692}>Température 2m (°C) , précipitations (mm)</Txt>
      <Txt x={450} y={672}>Ensemble GEFS du 07/02/2011 - 06h</Txt>
      <Txt x={449} y={692} size={11.6} bold>Copyright 2011 Meteociel.fr</Txt>
    </div>
  );
}
